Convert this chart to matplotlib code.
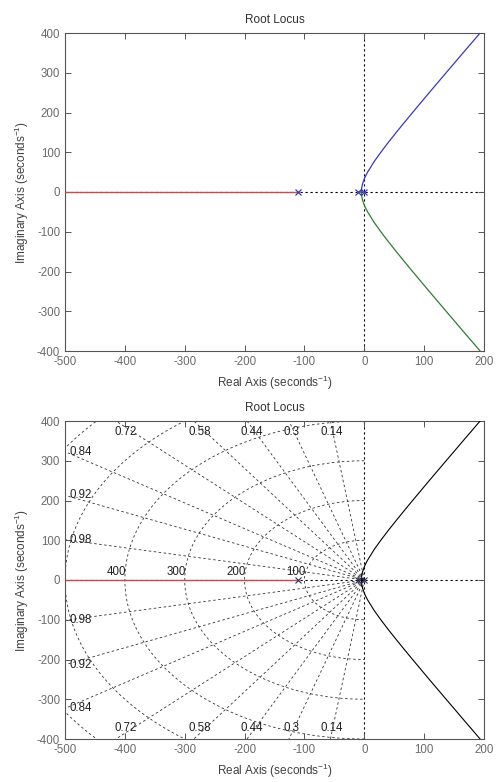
import numpy as np
import matplotlib
matplotlib.use("Agg")
import matplotlib.pyplot as plt

plt.rcParams['font.family'] = ['Liberation Sans', 'DejaVu Sans']
plt.rcParams['mathtext.default'] = 'regular'
plt.rcParams['axes.unicode_minus'] = False

# ---- data ----
poles_re = [-110, -10, 0]
poles_im = [0, 0, 0]
# real-axis branch (towards -infinity)
real_branch_re = [-110, -500]
real_branch_im = [0, 0]
# upper complex branch
upper_re = [0, -2, -4.9, -4.7, -4.4, -3, 0, 2, 5.5, 11.8, 15.75, 27.6, 40.25, 53.45, 67, 80.7,
            94.6, 108.5, 122.6, 136.7, 150.9, 165, 179.3, 193.5, 200.2]
upper_im = [0, 0, 0, 5, 10, 20, 33, 40, 50, 65, 75, 100, 125, 150, 175, 200,
            225, 250, 275, 300, 325, 350, 375, 400, 412]
# lower complex branch
lower_re = [-10, -7, -4.9, -4.7, -4.4, -3, 0, 2, 5.5, 11.8, 15.75, 27.6, 40.25, 53.45, 67, 80.7,
            94.6, 108.5, 122.6, 136.7, 150.9, 165, 179.3, 193.5, 200.2]
lower_im = [0, 0, 0, -5, -10, -20, -33, -40, -50, -65, -75, -100, -125, -150, -175, -200,
            -225, -250, -275, -300, -325, -350, -375, -400, -412]

# sgrid
zetas = [0.14, 0.3, 0.44, 0.58, 0.72, 0.84, 0.92, 0.98]
top_zetas = [0.72, 0.58, 0.44, 0.3, 0.14]
left_zetas = [0.84, 0.92, 0.98]
wns = [100, 200, 300, 400, 500, 600]
wn_labels = [400, 300, 200, 100]

xticks = [-500, -400, -300, -200, -100, 0, 100, 200]
yticks = [-400, -300, -200, -100, 0, 100, 200, 300, 400]

RED = '#c0504d'
BLUE = '#3a3ab8'
GREEN = '#2e7d32'
TICK_C = '#6a6a6a'
LAB_C = '#404040'

fig = plt.figure(figsize=(4.97, 7.82), dpi=100)
ax1 = fig.add_axes([65/497, 1-351/782, 419/497, 318/782])
ax2 = fig.add_axes([65/497, 1-739/782, 419/497, 318/782])


def style(ax):
    ax.set_xlim(-500, 200)
    ax.set_ylim(-400, 400)
    ax.set_xticks(xticks)
    ax.set_yticks(yticks)
    ax.tick_params(direction='in', top=True, right=True, length=4,
                   labelsize=8.3, colors='#555555', width=0.7)
    ax.tick_params(axis='both', labelcolor=TICK_C)
    for s in ax.spines.values():
        s.set_color('#555555')
        s.set_linewidth(0.8)
    ax.set_title('Root Locus', fontsize=8.5, color='#303030', pad=7)
    ax.set_xlabel('Real Axis (seconds$^{-1}$)', fontsize=8.5, color=LAB_C, labelpad=4)
    ax.set_ylabel('Imaginary Axis (seconds$^{-1}$)', fontsize=8.5, color=LAB_C, labelpad=4)


# ---- top plot ----
style(ax1)
ax1.axhline(0, color='k', ls=(0, (2, 2.5)), lw=0.8, zorder=1)
ax1.axvline(0, color='k', ls=(0, (2, 2.5)), lw=0.8, zorder=1)
ax1.plot(real_branch_re, real_branch_im, color=RED, lw=1.0, zorder=3)
ax1.plot(upper_re, upper_im, color=BLUE, lw=0.9, zorder=3)
ax1.plot(lower_re, lower_im, color=GREEN, lw=0.9, zorder=3)
ax1.plot(poles_re, poles_im, 'x', color=BLUE, ms=4, mew=0.9, zorder=4)

# ---- bottom plot ----
style(ax2)
gridkw = dict(color='#333333', ls=(0, (3, 3)), lw=0.6, zorder=1)
R = 2000
for z in zetas:
    ang = np.arccos(z)
    ax2.plot([0, -R*np.cos(ang)], [0, R*np.sin(ang)], **gridkw)
    ax2.plot([0, -R*np.cos(ang)], [0, -R*np.sin(ang)], **gridkw)
th = np.linspace(np.pi/2, 3*np.pi/2, 300)
for w in wns:
    ax2.plot(w*np.cos(th), w*np.sin(th), **gridkw)
ax2.axhline(0, color='k', ls=(0, (2, 2.5)), lw=0.8, zorder=1)
ax2.axvline(0, color='k', ls=(0, (2, 2.5)), lw=0.8, zorder=1)

for z in top_zetas:
    ang = np.arccos(z)
    xl = -385/np.tan(ang)
    ax2.text(xl, 388, f'{z:g}', ha='center', va='top', fontsize=8.3, color='#202020', zorder=5)
    ax2.text(xl, -388, f'{z:g}', ha='center', va='bottom', fontsize=8.3, color='#202020', zorder=5)
for z in left_zetas:
    ang = np.arccos(z)
    yl = 500*np.tan(ang)
    ax2.text(-493, yl, f'{z:g}', ha='left', va='center', fontsize=8.3, color='#202020', zorder=5)
    ax2.text(-493, -yl, f'{z:g}', ha='left', va='center', fontsize=8.3, color='#202020', zorder=5)
for w in wn_labels:
    ax2.text(-w+2, 6, f'{w}', ha='right', va='bottom', fontsize=8.3, color='#202020', zorder=5)

ax2.plot(real_branch_re, real_branch_im, color=RED, lw=1.0, zorder=3)
ax2.plot(upper_re, upper_im, color='k', lw=0.8, zorder=3)
ax2.plot(lower_re, lower_im, color='k', lw=0.8, zorder=3)
ax2.plot(poles_re, poles_im, 'x', color='#303060', ms=4, mew=0.8, zorder=4)

fig.savefig('out.png', dpi=100)
